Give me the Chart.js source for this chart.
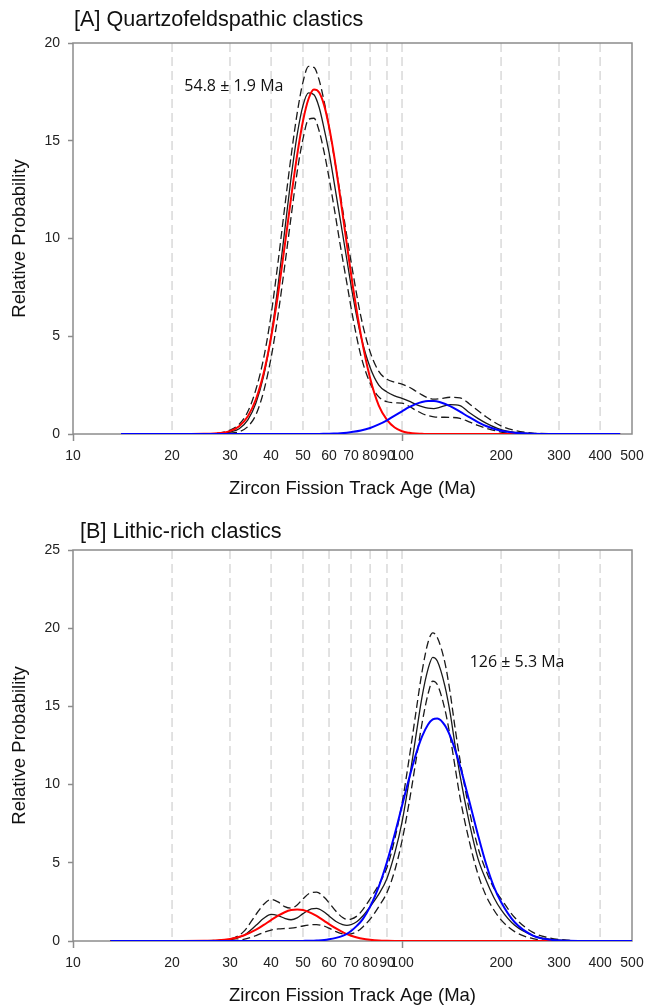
<!DOCTYPE html>
<html><head><meta charset="utf-8">
<script src="https://cdn.jsdelivr.net/npm/chart.js@4.4.1/dist/chart.umd.min.js"></script>
<style>
html,body{margin:0;padding:0;background:#fff;}
#wrap{position:relative;width:645px;height:1005px;overflow:hidden;}
canvas{position:absolute;left:0;}
</style></head><body>
<div id="wrap">
<canvas id="cA" width="645" height="505" style="top:0;width:645px;height:505px"></canvas>
<canvas id="cB" width="645" height="500" style="top:505px;width:645px;height:500px"></canvas>
</div>
<script>
// ---- tick labels / grid ----
const xTickValues = [10,20,30,40,50,60,70,80,90,100,200,300,400,500];
const gridAges = [20,30,40,50,60,70,80,90,100,200,300,400];

// ---- panel A : Quartzofeldspathic clastics ----
const agesA = [14,20,25,28,30, 32,34,36,38,40, 42,44,46,48,50, 52,54,56,58,60, 62,65,68,71,75, 80,85,90,95,100, 105,110,115,120,125, 130,140,150,160,170, 180,200,220,250,300, 350,460];
const pdfA   = [0,0,0,0.03,0.1, 0.27,0.72,1.6,3.0,5.0, 7.6,10.4,13.1,15.3,16.8, 17.45,17.35,16.7,15.6,14.4, 13.0,10.9,8.9,7.0,5.0, 3.4,2.5,2.15,1.95,1.82, 1.68,1.52,1.4,1.32,1.3, 1.36,1.5,1.45,1.1,0.8, 0.56,0.22,0.08,0.02,0, 0,0];
const upperA = [0,0,0.01,0.06,0.2, 0.5,1.15,2.3,3.9,6.1, 8.8,11.6,14.2,16.4,18.0, 18.8,18.75,18.1,17.0,15.7, 14.3,12.2,10.1,8.2,6.0, 4.2,3.2,2.8,2.65,2.55, 2.4,2.2,2.0,1.85,1.78, 1.8,1.88,1.85,1.55,1.2, 0.88,0.42,0.18,0.05,0.01, 0,0];
const lowerA = [0,0,0,0.01,0.04, 0.12,0.38,1.0,2.2,3.9, 6.1,8.6,11.1,13.4,15.1, 16.1,16.15,15.5,14.4,13.1, 11.7,9.6,7.7,5.9,4.0, 2.6,1.9,1.65,1.6,1.58, 1.42,1.22,1.05,0.94,0.88, 0.86,0.85,0.8,0.62,0.44, 0.3,0.1,0.03,0,0, 0,0];
const redA   = [0,0,0.01,0.05,0.15, 0.4,0.91,1.79,3.13,4.95, 7.16,9.62,12.07,14.26,16.01, 17.15,17.62,17.47,16.81,15.72, 14.36,12.04,9.67,7.48,5.06, 2.85,1.45,0.72,0.33,0.14, 0.06,0.02,0.01,0,0, 0,0,0,0,0, 0,0,0,0,0, 0,0];
const blueA  = [0,0,0,0,0, 0,0,0,0,0, 0,0,0,0,0, 0.002,0.003,0.005,0.009,0.014, 0.022,0.04,0.07,0.11,0.18, 0.31,0.49,0.7,0.94,1.16, 1.37,1.53,1.64,1.69,1.69, 1.64,1.43,1.14,0.86,0.61, 0.41,0.17,0.065,0.014,0.001, 0,0];

// ---- panel B : Lithic-rich clastics ----
const agesB = [13,20,25,30,33, 36,38,40,42,44, 46,48,50,53,55, 58,60,63,66,68, 70,73,76,80,85, 90,95,100,105,110, 115,120,124,128,135, 140,145,150,160,170, 180,190,200,220,250, 280,320,380,500];
const pdfB   = [0,0,0.01,0.08,0.35, 1.0,1.45,1.7,1.62,1.45, 1.36,1.48,1.75,2.05,2.08, 1.85,1.6,1.25,1.05,1.0, 1.05,1.25,1.6,2.2,3.0, 4.0,5.6,7.6,10.2,13.0, 15.6,17.4,18.14,17.9,16.3, 14.6,12.5,10.6,7.6,5.3, 3.9,2.8,2.0,1.0,0.35, 0.12,0.03,0,0];
const upperB = [0,0,0.02,0.12,0.6, 1.7,2.35,2.66,2.5,2.2, 2.1,2.3,2.7,3.1,3.12, 2.8,2.45,1.9,1.5,1.38, 1.4,1.6,2.0,2.7,3.6, 4.7,6.5,8.8,11.6,14.5, 17.2,19.1,19.7,19.4,17.8, 15.9,13.6,11.6,8.4,6.0, 4.5,3.4,2.7,1.5,0.55, 0.2,0.05,0,0];
const lowerB = [0,0,0,0.02,0.1, 0.35,0.55,0.7,0.77,0.8, 0.82,0.88,0.96,1.04,1.05, 0.95,0.82,0.6,0.45,0.42, 0.45,0.6,0.9,1.4,2.2, 3.1,4.5,6.4,8.8,11.4, 13.9,15.8,16.62,16.4,14.8, 13.1,11.1,9.2,6.4,4.3, 2.9,2.0,1.35,0.6,0.15, 0.04,0,0,0];
const redB   = [0,0,0.01,0.13,0.35, 0.72,1.03,1.34,1.62,1.84, 1.98,2.02,1.98,1.78,1.6, 1.29,1.08,0.8,0.57,0.44, 0.34,0.22,0.14,0.08,0.034, 0.015,0.006,0.002,0,0, 0,0,0,0,0, 0,0,0,0,0, 0,0,0,0,0, 0,0,0,0];
const blueB  = [0,0,0,0,0, 0,0,0,0,0, 0.001,0.003,0.007,0.016,0.03, 0.06,0.105,0.2,0.33,0.46, 0.64,0.98,1.4,2.2,3.48, 5.05,6.82,8.64,10.37,11.88, 13.06,13.84,14.17,14.23,13.79, 13.12,12.22,11.2,8.96,6.81, 4.94,3.5,2.5,1.2,0.35, 0.09,0.015,0,0];

// ---- texts ----
const panelTitles = ['[A] Quartzofeldspathic clastics', '[B] Lithic-rich clastics'];
const peakLabels = ['54.8 \u00B1 1.9 Ma', '126 \u00B1 5.3 Ma'];
const xTitle = 'Zircon Fission Track Age (Ma)';
const yTitle = 'Relative Probability';

const SANS = '"Liberation Sans", Arial, Helvetica, sans-serif';

function pts(ages, vals){ return ages.map((a,i)=>({x:a, y:vals[i]})); }

function makeChart(id, cfg){
  const ds = [
    {data:pts(cfg.ages,cfg.blue), borderColor:'#0000ff', borderWidth:2},
    {data:pts(cfg.ages,cfg.red), borderColor:'#ff0000', borderWidth:2},
    {data:pts(cfg.ages,cfg.pdf), borderColor:'#1a1a1a', borderWidth:1.3},
    {data:pts(cfg.ages,cfg.upper), borderColor:'#1a1a1a', borderWidth:1.3, borderDash:[8,4]},
    {data:pts(cfg.ages,cfg.lower), borderColor:'#1a1a1a', borderWidth:1.3, borderDash:[8,4]}
  ].map(d=>Object.assign(d,{pointRadius:0, fill:false, cubicInterpolationMode:'monotone'}));

  const decor = {
    id:'decor',
    beforeDatasetsDraw(chart){
      const {ctx, chartArea:a, scales:{x}} = chart;
      ctx.save();
      ctx.strokeStyle = '#d9d9d9'; ctx.lineWidth = 1.5; ctx.setLineDash([9,5]);
      gridAges.forEach(v=>{
        const px = x.getPixelForValue(v);
        ctx.beginPath(); ctx.moveTo(px, a.top); ctx.lineTo(px, a.bottom); ctx.stroke();
      });
      ctx.setLineDash([]);
      ctx.strokeStyle = '#8c8c8c'; ctx.lineWidth = 1.5;
      ctx.strokeRect(a.left, a.top, a.right-a.left, a.bottom-a.top);
      ctx.restore();
    },
    afterDraw(chart){
      const {ctx, chartArea:a, scales:{x,y}} = chart;
      ctx.save();
      ctx.fillStyle = '#111';
      ctx.textBaseline = 'middle';
      ctx.textAlign = 'left';
      ctx.font = '21.6px ' + SANS;
      ctx.fillText(cfg.title, cfg.titleX, cfg.titleY);
      ctx.font = '18.5px ' + SANS;
      ctx.textAlign = 'center';
      ctx.fillText(xTitle, (a.left+a.right)/2, cfg.xTitleY);
      ctx.save();
      ctx.translate(20, (a.top+a.bottom)/2);
      ctx.rotate(-Math.PI/2);
      ctx.fillText(yTitle, 0, 0);
      ctx.restore();
      ctx.font = '16px "Open Sans", ' + SANS;
      ctx.textAlign = 'left';
      ctx.fillText(cfg.peak, x.getPixelForValue(cfg.peakAt[0]), y.getPixelForValue(cfg.peakAt[1]));
      ctx.restore();
    }
  };

  return new Chart(document.getElementById(id), {
    type:'line',
    data:{datasets:ds},
    plugins:[decor],
    options:{
      responsive:false, animation:false, devicePixelRatio:1,
      layout:{padding:{left:0, top:cfg.top, right:13, bottom:0}},
      plugins:{legend:{display:false}, tooltip:{enabled:false}, title:{display:false}},
      scales:{
        x:{
          type:'logarithmic', min:10, max:500,
          afterBuildTicks:(s)=>{ s.ticks = xTickValues.map(v=>({value:v})); },
          afterFit:(s)=>{ s.height = cfg.xAxisH; s.paddingLeft = 0; s.paddingRight = 0; },
          ticks:{autoSkip:false, maxRotation:0, minRotation:0, padding:7, color:'#222',
                 font:{family:SANS, size:14}, callback:(v)=>String(v)},
          grid:{drawOnChartArea:false, drawTicks:true, tickLength:7, tickWidth:1.5,
                tickColor:(c)=> (c.tick && (c.tick.value===10 || c.tick.value===100)) ? '#8c8c8c' : 'rgba(0,0,0,0)'},
          border:{display:false}
        },
        y:{
          min:0, max:cfg.ymax,
          afterFit:(s)=>{ s.width = 73; s.paddingTop = 0; s.paddingBottom = 0; },
          ticks:{stepSize:5, padding:8, color:'#222', font:{family:SANS, size:14}},
          grid:{drawOnChartArea:false, drawTicks:true, tickLength:5, tickWidth:1.5, tickColor:'#8c8c8c'},
          border:{display:false}
        }
      }
    }
  });
}

makeChart('cA', {ages:agesA, pdf:pdfA, upper:upperA, lower:lowerA, red:redA, blue:blueA,
  ymax:20, top:43, xAxisH:71, title:panelTitles[0], titleX:74, titleY:20, xTitleY:489,
  peak:peakLabels[0], peakAt:[21.8, 17.76]});
makeChart('cB', {ages:agesB, pdf:pdfB, upper:upperB, lower:lowerB, red:redB, blue:blueB,
  ymax:25, top:45, xAxisH:64, title:panelTitles[1], titleX:80, titleY:27, xTitleY:491,
  peak:peakLabels[1], peakAt:[160.5, 17.78]});
</script>
</body></html>
